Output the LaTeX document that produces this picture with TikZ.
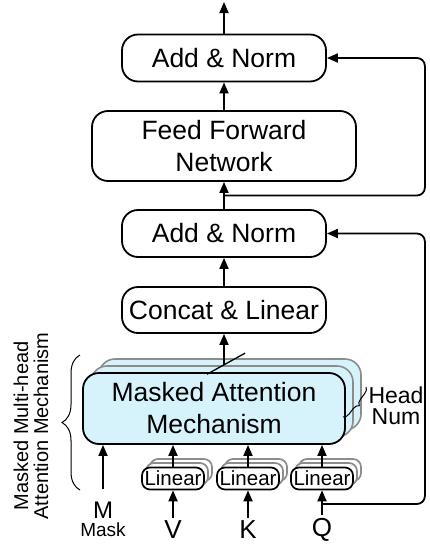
\documentclass[tikz,border=0pt]{standalone}
\usepackage{fontspec}
\setmainfont{Liberation Sans}
\usepackage{tikz}
\usetikzlibrary{arrows.meta,shapes}
\usetikzlibrary{decorations.pathreplacing}
\usetikzlibrary{calc}
\definecolor{mamcyan}{RGB}{214,243,252}
\newcommand{\boxfont}{\fontsize{26.5}{32}\selectfont}
\newcommand{\linfont}{\fontsize{20.5}{22}\selectfont}
\newcommand{\headfont}{\fontsize{23}{21}\selectfont}
\newcommand{\sidefont}{\fontsize{20}{20}\selectfont}
\tikzstyle{block}=[draw,rounded corners=16pt,line width=1.8pt,minimum width=204pt,minimum height=47pt,inner sep=0pt,font=\boxfont,align=center]
\tikzstyle{mamblock}=[block,fill=mamcyan,minimum width=262pt,minimum height=71pt]
\tikzstyle{mamback}=[mamblock,draw=black!45,line width=1.6pt]
\tikzstyle{smallblock}=[draw,rounded corners=8pt,line width=1.7pt,minimum width=62pt,minimum height=22pt,inner sep=0pt,font=\linfont,fill=white]
\tikzstyle{smallback}=[smallblock,draw=black!45]
\tikzstyle{edge}=[draw,line width=1.8pt,-{Triangle[length=11pt,width=9pt]}]
\tikzstyle{undirectededge}=[draw,line width=1.8pt]
\tikzstyle{inlabel}=[font=\fontsize{26}{26}\selectfont,inner sep=3pt]
\begin{document}
\begin{tikzpicture}[x=1pt,y=-1pt]
\useasboundingbox (0,0) rectangle (429,544);

    % main column
    \node[block] (an1) at (224,58) {Add \& Norm};
    \node[block,minimum width=264pt,minimum height=70pt] (ff) at (224,146) {Feed Forward\\Network};
    \node[block] (an2) at (224,233.5) {Add \& Norm};
    \node[block,minimum height=46pt] (concat) at (224,310) {Concat \& Linear};

    % heads
    \node[mamback] (mam2) at (230,394.5) {};
    \node[mamback] (mam1) at (222,401.5) {};
    \node[mamblock] (mam) at (214,408.5) {Masked Attention\\Mechanism};

    \foreach \x/ \name/ \lab in {173/v/V, 248/k/K, 322/q/Q} {
        \node[smallback] at (\x+8,470) {};
        \node[smallback] at (\x+4,474) {};
        \node[smallblock] (l\name) at (\x,478.5) {Linear};
        \node[inlabel] (\name) at (\x,530) {\lab};
        \draw[edge] (\name) -- (l\name);
        \draw[edge] (l\name) -- (l\name.north |- mam.south);
    }

    \node[font=\fontsize{24}{24}\selectfont,inner sep=3pt] (m) at (103,510) {M};
    \node[font=\fontsize{19}{19}\selectfont,inner sep=0pt] (mask) at (103,530) {Mask};
    \draw[edge,shorten <=10pt] (m.north) -- (m.north |- mam.south);

    % flow upwards
    \coordinate (out) at (224,2);
    \draw[edge] (mam1.north -| concat.south) -- (concat);
    \draw[line width=1.3pt] ([shift={(-15,9)}]mam1.north) -- ([shift={(23,-12)}]mam1.north);
    \draw[edge] (concat) -- (an2);
    \draw[edge] (an2) -- (ff);
    \draw[edge] (ff) -- (an1);
    \draw[edge] (an1) -- (out);

    % residual lines
    \coordinate (ffsplit) at ($(an2.north)!0.5!(ff.south)$);
    \coordinate (qsplit) at (322,504);
    \draw[edge,rounded corners=8pt] (ffsplit) -| ([xshift=98pt]an1.east) -- (an1.east);
    \draw[edge,rounded corners=8pt] (qsplit) -| ([xshift=98pt]an2.east) -- (an2.east);

    % braces
    \draw[decorate,decoration={brace,amplitude=18pt},line width=1pt] (80,490) -- (80,355);
    \node[font=\sidefont,align=center,rotate=90] (side) at (31,426) {Masked Multi-head\\Attention Mechanism};
    \draw[decorate,decoration={brace,amplitude=6pt},line width=1pt] (366,387) -- (343,417);
    \node[font=\headfont,align=center,inner sep=0pt] (head) at (396,406) {Head\\Num};

\end{tikzpicture}
\end{document}
